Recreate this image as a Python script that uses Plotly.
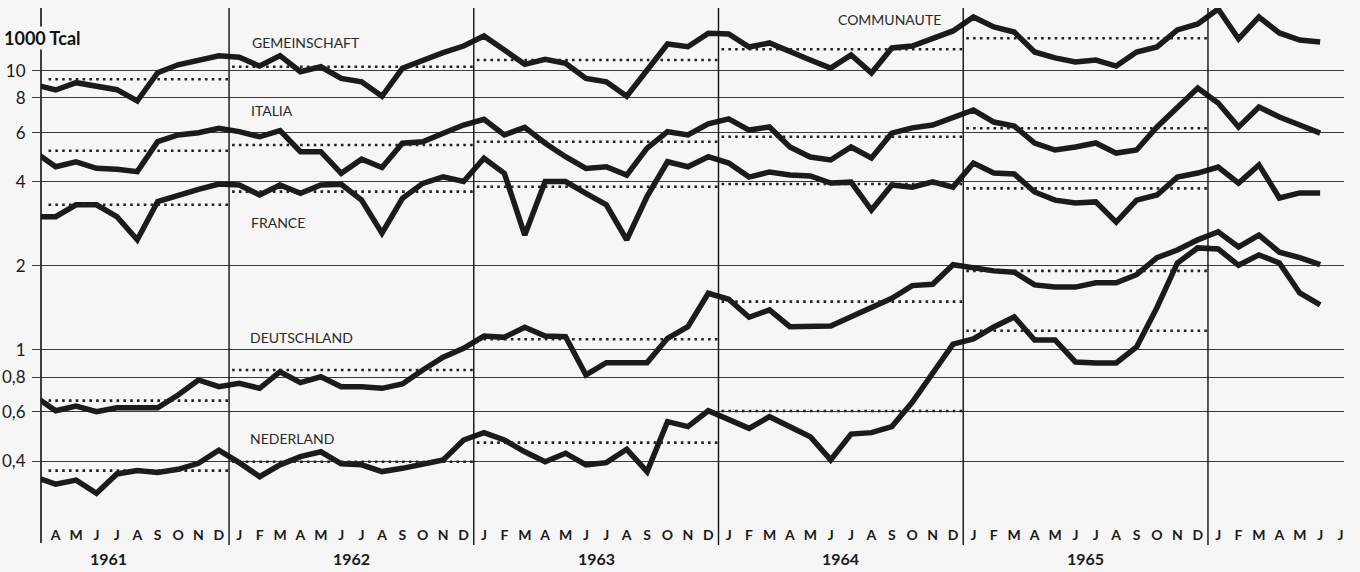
import math
import plotly.graph_objects as go

# ---------------- data (1000 Tcal, monthly, Mar 1961 .. Jun 1966) ----------------
start_year, start_month = 1961, 3  # first value (line enters from the left edge)

gemeinschaft = [8.9, 8.53, 9.06, 8.76, 8.55, 7.79, 9.84, 10.5, 10.9, 11.3,
                11.17, 10.39, 11.32, 9.92, 10.33, 9.39, 9.13, 8.1, 10.2, 10.92, 11.6, 12.26,
                13.31, 11.86, 10.54, 10.98, 10.63, 9.39, 9.13, 8.1, 10.06, 12.46, 12.19, 13.61,
                13.53, 12.16, 12.57, 11.67, 10.92, 10.22, 11.38, 9.81, 12.06, 12.26, 12.99, 13.88,
                15.57, 14.34, 13.76, 11.67, 11.11, 10.74, 10.92, 10.39, 11.67, 12.16, 13.99, 14.7,
                16.63, 12.99, 15.57, 13.65, 12.88, 12.67]

italia = [5.1, 4.53, 4.72, 4.47, 4.44, 4.35, 5.57, 5.89, 6.0, 6.22,
          6.05, 5.8, 6.1, 5.13, 5.13, 4.29, 4.82, 4.5, 5.5, 5.57, 5.97, 6.39,
          6.7, 5.89, 6.27, 5.5, 4.92, 4.47, 4.53, 4.23, 5.28, 6.05, 5.89, 6.45,
          6.72, 6.13, 6.29, 5.33, 4.91, 4.79, 5.33, 4.87, 5.98, 6.24, 6.39, 6.83,
          7.23, 6.55, 6.34, 5.51, 5.2, 5.33, 5.51, 5.07, 5.2, 6.29, 7.41, 8.67,
          7.66, 6.29, 7.41, 6.83, 6.39, 5.98]

france = [3.0, 3.0, 3.31, 3.31, 3.0, 2.48, 3.4, 3.59, 3.76, 3.93,
          3.9, 3.59, 3.9, 3.64, 3.9, 3.92, 3.44, 2.62, 3.49, 3.95, 4.17, 4.01,
          4.86, 4.29, 2.58, 4.01, 4.01, 3.64, 3.31, 2.48, 3.55, 4.72, 4.53, 4.92,
          4.67, 4.16, 4.34, 4.23, 4.2, 3.96, 3.99, 3.17, 3.9, 3.83, 4.0, 3.83,
          4.67, 4.3, 4.27, 3.68, 3.44, 3.36, 3.39, 2.87, 3.44, 3.59, 4.16, 4.3,
          4.52, 3.96, 4.6, 3.5, 3.65, 3.65]

deutschland = [0.68, 0.606, 0.63, 0.601, 0.621, 0.621, 0.621, 0.69, 0.781, 0.739,
               0.76, 0.729, 0.836, 0.764, 0.802, 0.739, 0.739, 0.729, 0.756, 0.848, 0.942, 1.014,
               1.122, 1.11, 1.206, 1.122, 1.116, 0.814, 0.901, 0.901, 0.901, 1.101, 1.212, 1.596,
               1.519, 1.31, 1.391, 1.212, 1.212, 1.219, 1.316, 1.422, 1.531, 1.7, 1.72, 2.02,
               1.97, 1.92, 1.9, 1.71, 1.68, 1.68, 1.74, 1.74, 1.86, 2.14, 2.28, 2.48,
               2.65, 2.34, 2.58, 2.24, 2.14, 2.02]

nederland = [0.35, 0.331, 0.342, 0.307, 0.36, 0.37, 0.364, 0.374, 0.393, 0.438,
             0.395, 0.352, 0.388, 0.415, 0.432, 0.391, 0.388, 0.367, 0.377, 0.39, 0.404, 0.476,
             0.506, 0.476, 0.432, 0.398, 0.427, 0.388, 0.395, 0.441, 0.367, 0.554, 0.532, 0.606,
             0.562, 0.524, 0.577, 0.532, 0.489, 0.404, 0.5, 0.506, 0.532, 0.65, 0.82, 1.05,
             1.095, 1.209, 1.313, 1.086, 1.086, 0.906, 0.899, 0.899, 1.025, 1.42, 2.05, 2.32,
             2.3, 2.01, 2.19, 2.05, 1.6, 1.45]

# yearly averages (dotted lines), 1961 .. 1965
avg_years = [1961, 1962, 1963, 1964, 1965]
avg_gemeinschaft = [9.32, 10.33, 10.92, 11.93, 13.06]
avg_italia = [5.17, 5.42, 5.57, 5.80, 6.22]
avg_france = [3.31, 3.69, 3.84, 3.93, 3.79]
avg_deutschland = [0.659, 0.848, 1.092, 1.49, 1.92]
avg_nederland = [0.370, 0.398, 0.466, 0.605, 1.172]

month_letters = ["J", "F", "M", "A", "M", "J", "J", "A", "S", "O", "N", "D"]
year_labels = ["1961", "1962", "1963", "1964", "1965"]
y_tickvals = [0.4, 0.6, 0.8, 1, 2, 4, 6, 8, 10]
y_ticktext = ["0,4", "0,6", "0,8", "1", "2", "4", "6", "8", "10"]

# ---------------- helpers ----------------
def month_index(year, month):  # months since Jan 1961, 0-based, start of month
    return (year - 1961) * 12 + (month - 1)

n = len(gemeinschaft)
first = month_index(start_year, start_month)
xs = [first + i + 0.5 for i in range(n)]  # points at month centres

LINE = "#1b1b1b"
BG = "#f6f6f6"
FONT = "Lato"

fig = go.Figure()
for name, vals in [("Gemeinschaft", gemeinschaft), ("Italia", italia), ("France", france),
                   ("Deutschland", deutschland), ("Nederland", nederland)]:
    fig.add_trace(go.Scatter(x=xs, y=vals, mode="lines", name=name,
                             line=dict(color=LINE, width=5.5, shape="linear"),
                             showlegend=False, hoverinfo="skip"))

for name, avgs in [("Gemeinschaft", avg_gemeinschaft), ("Italia", avg_italia),
                   ("France", avg_france), ("Deutschland", avg_deutschland),
                   ("Nederland", avg_nederland)]:
    dx, dy = [], []
    for yr, a in zip(avg_years, avgs):
        s = month_index(yr, 1) if yr != 1961 else month_index(1961, 4)
        e = month_index(yr + 1, 1)
        dx += [s + 0.15, e - 0.05, None]
        dy += [a, a, None]
    fig.add_trace(go.Scatter(x=dx, y=dy, mode="lines", showlegend=False, hoverinfo="skip",
                             line=dict(color="#222", width=2.6, dash="2.6px,4.2px")))

x_lo, x_hi = 2.78, 66.67
tickvals_x = [m + 0.5 for m in range(month_index(1961, 4), month_index(1966, 7) + 1)]
ticktext_x = [month_letters[int(v) % 12] for v in tickvals_x]

shapes = []
for yr in [1962, 1963, 1964, 1965, 1966]:
    shapes.append(dict(type="line", xref="x", yref="paper", x0=month_index(yr, 1),
                       x1=month_index(yr, 1), y0=-0.049, y1=1.0,
                       line=dict(color="#111", width=1.4)))
shapes.append(dict(type="line", xref="paper", yref="paper", x0=0, x1=0, y0=-0.045, y1=1.0,
                   line=dict(color="#111", width=1.6)))

annotations = []
series_labels = [("GEMEINSCHAFT", 13.03, 12.57), ("ITALIA", 12.98, 7.23),
                 ("FRANCE", 12.98, 2.87), ("DEUTSCHLAND", 12.93, 1.104),
                 ("NEDERLAND", 12.93, 0.484), ("COMMUNAUTE", 41.76, 15.31)]
for txt, mx, val in series_labels:
    annotations.append(dict(text=txt, x=mx, y=math.log10(val), xref="x", yref="y",
                            xanchor="left", yanchor="middle", showarrow=False,
                            font=dict(family=FONT, size=14, color="#2a2a2a")))
year_pos = [6.1, 18, 30, 42, 54]
for txt, mx in zip(year_labels, year_pos):
    annotations.append(dict(text=txt, x=mx, y=-0.076, xref="x", yref="paper",
                            xanchor="center", yanchor="middle", showarrow=False,
                            font=dict(family=FONT, size=16, color="#1a1a1a", weight=700)))
annotations.append(dict(text="<b>1000 Tcal</b>", x=0, xref="paper", xshift=-38,
                        y=0.941, yref="paper", xanchor="left", yanchor="middle",
                        showarrow=False, bgcolor=BG, borderpad=0,
                        font=dict(family=FONT, size=18, color="#111")))

fig.update_layout(
    width=1360, height=572,
    margin=dict(l=41, r=16, t=8, b=52, autoexpand=False),
    paper_bgcolor=BG, plot_bgcolor=BG,
    shapes=shapes, annotations=annotations,
    xaxis=dict(range=[x_lo, x_hi], showgrid=False, zeroline=False, showline=False,
               tickvals=tickvals_x, ticktext=ticktext_x, ticks="", automargin=False,
               ticklabelstandoff=5,
               tickfont=dict(family=FONT, size=14, color="#1a1a1a", weight=700)),
    yaxis=dict(type="log", range=[-0.6087, 1.2245], tickvals=y_tickvals, ticktext=y_ticktext,
               showgrid=True, gridcolor="#3a3a3a", gridwidth=1, zeroline=False,
               showline=False, ticks="outside", ticklen=8, tickcolor="#3a3a3a",
               automargin=False, ticklabelstandoff=3,
               tickfont=dict(family=FONT, size=17, color="#1a1a1a")),
)

fig.write_html("out.html", config={"displayModeBar": False},
               post_script="document.body.style.margin='0';")
